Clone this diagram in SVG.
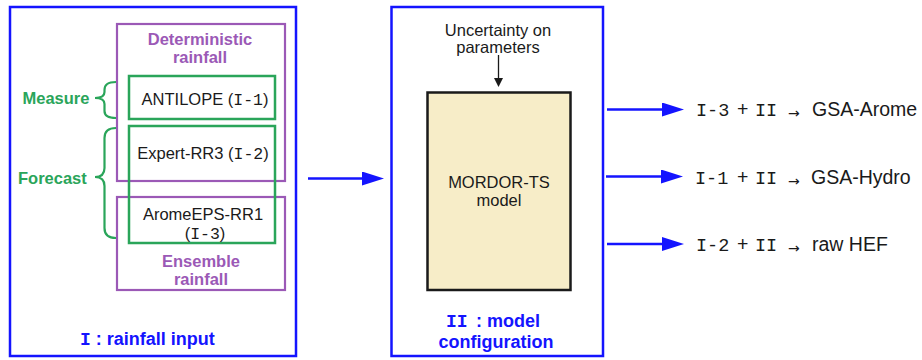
<svg xmlns="http://www.w3.org/2000/svg" width="922" height="360" viewBox="0 0 922 360">
<defs>
<style>
.blue{fill:none;stroke:#1414ff;stroke-width:2.5}
.pur{fill:none;stroke:#9b59b6;stroke-width:2.2}
.grn{fill:none;stroke:#2aa55a;stroke-width:2.5}
.brace{fill:none;stroke:#2aa55a;stroke-width:2.2}
.t{font-family:"Liberation Sans",Arial,sans-serif;font-size:16.5px;fill:#1a1a1a}
.m{font-family:"Liberation Mono","DejaVu Sans Mono",monospace}
.pl{font-family:"Liberation Sans",Arial,sans-serif;font-size:16.5px;font-weight:bold;fill:#9b59b6}
.gl{font-family:"Liberation Sans",Arial,sans-serif;font-size:16.5px;font-weight:bold;fill:#2aa55a}
.bl{font-family:"Liberation Sans",Arial,sans-serif;font-size:18px;font-weight:bold;fill:#1414ff}
.r{font-family:"Liberation Sans",Arial,sans-serif;font-size:19.5px;fill:#1a1a1a}
.ar{font-family:"DejaVu Sans",sans-serif;font-size:14px;fill:#1a1a1a}
.conn{stroke:#1414ff;stroke-width:2.5;fill:none}
</style>
<marker id="bh" markerUnits="userSpaceOnUse" markerWidth="22" markerHeight="14" refX="0" refY="7" orient="auto">
<path d="M0,0 L22,7 L0,14 Z" fill="#1414ff"/>
</marker>
<marker id="kh" markerUnits="userSpaceOnUse" markerWidth="9" markerHeight="11" refX="0" refY="4.5" orient="auto">
<path d="M0,0 L9,4.5 L0,9 Z" fill="#1a1a1a"/>
</marker>
</defs>

<g id="rainfall-input">
<rect class="blue" x="10" y="7" width="286" height="349"/>
<text class="bl" x="80" y="345"><tspan class="m">I</tspan> : rainfall input</text>
</g>

<g id="deterministic">
<rect class="pur" x="117" y="24" width="168" height="157"/>
<text class="pl" x="200" y="44.5" text-anchor="middle">Deterministic</text>
<text class="pl" x="200" y="63" text-anchor="middle">rainfall</text>
</g>

<g id="ensemble">
<rect class="pur" x="117" y="197" width="168" height="93"/>
<text class="pl" x="201" y="267" text-anchor="middle">Ensemble</text>
<text class="pl" x="201" y="285" text-anchor="middle">rainfall</text>
</g>

<g id="antilope">
<rect class="grn" x="129" y="76" width="146" height="43"/>
<text class="t" x="205" y="104.5" text-anchor="middle">ANTILOPE (<tspan class="m">I-1</tspan>)</text>
</g>

<g id="expert">
<rect class="grn" x="129" y="126" width="146" height="117"/>
<text class="t" x="203" y="158.5" text-anchor="middle">Expert-RR3 (<tspan class="m">I-2</tspan>)</text>
<text class="t" x="203" y="220" text-anchor="middle">AromeEPS-RR1</text>
<text class="t" x="205" y="239" text-anchor="middle">(<tspan class="m">I-3</tspan>)</text>
</g>

<g id="measure">
<path class="brace" d="M116,82 C108,82 104.5,84 104.5,90 L104.5,92 C104.5,96 102,98 95,98 C102,98 104.5,100 104.5,104 L104.5,111 C104.5,116 108,118 116,118"/>
<text class="gl" x="22.5" y="104">Measure</text>
</g>

<g id="forecast">
<path class="brace" d="M116,128 C108,128 104.5,131 104.5,138 L104.5,168 C104.5,174 102,177 95,177 C102,177 104.5,180 104.5,186 L104.5,228 C104.5,235 108,238 116,238"/>
<text class="gl" x="18" y="183.5">Forecast</text>
</g>

<g id="model-configuration">
<rect class="blue" x="391.5" y="7" width="211.5" height="349"/>
<text class="t" x="498" y="36" text-anchor="middle">Uncertainty on</text>
<text class="t" x="498" y="53" text-anchor="middle">parameters</text>
<text class="bl" y="327"><tspan class="m" x="446">II</tspan><tspan x="476">: model</tspan></text>
<text class="bl" x="496" y="348" text-anchor="middle">configuration</text>
</g>

<g id="mordor">
<rect x="427.5" y="92.5" width="143" height="197.5" fill="#f7edc8" stroke="#1a1a1a" stroke-width="2.5"/>
<text class="t" x="499" y="188" text-anchor="middle">MORDOR-TS</text>
<text class="t" x="499" y="205.5" text-anchor="middle">model</text>
</g>

<g id="out-arome">
<text class="r" y="116"><tspan class="m" x="696" font-size="18.5">I-3</tspan><tspan x="737">+</tspan><tspan class="m" x="755" font-size="18.5">II</tspan><tspan class="ar" x="788" dy="2">→</tspan><tspan x="812" dy="-2">GSA-Arome</tspan></text>
</g>
<g id="out-hydro">
<text class="r" y="183.5"><tspan class="m" x="695" font-size="18.5">I-1</tspan><tspan x="737">+</tspan><tspan class="m" x="755" font-size="18.5">II</tspan><tspan class="ar" x="788" dy="2">→</tspan><tspan x="811" dy="-2">GSA-Hydro</tspan></text>
</g>
<g id="out-hef">
<text class="r" y="250.5"><tspan class="m" x="696" font-size="18.5">I-2</tspan><tspan x="737">+</tspan><tspan class="m" x="755" font-size="18.5">II</tspan><tspan class="ar" x="788" dy="2">→</tspan><tspan x="812" dy="-2">raw HEF</tspan></text>
</g>

<g id="connectors">
<line class="conn" x1="308" y1="178.5" x2="362" y2="178.5" marker-end="url(#bh)"/>
<line class="conn" x1="607" y1="109.5" x2="662" y2="109.5" marker-end="url(#bh)"/>
<line class="conn" x1="606" y1="176.5" x2="661" y2="176.5" marker-end="url(#bh)"/>
<line class="conn" x1="607" y1="244" x2="662" y2="244" marker-end="url(#bh)"/>
<line x1="498.5" y1="55" x2="498.5" y2="78" stroke="#1a1a1a" stroke-width="1.3" marker-end="url(#kh)"/>
</g>
</svg>
